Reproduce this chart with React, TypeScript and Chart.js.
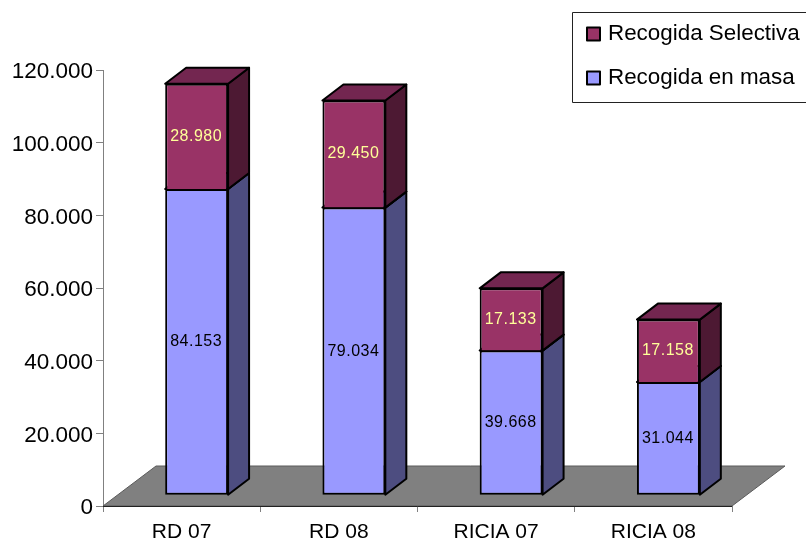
import React, { useEffect, useRef } from "react";
import { Chart, registerables } from "chart.js";

Chart.register(...registerables);

const categories = ["RD 07", "RD 08", "RICIA 07", "RICIA 08"];
const recogidaMasa = [84153, 79034, 39668, 31044];
const recogidaSelectiva = [28980, 29450, 17133, 17158];
const yTicks = [0, 20000, 40000, 60000, 80000, 100000, 120000];

const FONT = '"Liberation Sans", Arial, sans-serif';
const BLUE = "#9999ff";
const BLUE_SIDE = "#4d4d80";
const MAROON = "#993366";
const MAROON_TOP = "#732650";
const MAROON_SIDE = "#4d1933";
const LABEL_YELLOW = "#ffff99";

// Projection used for the pseudo-3D look
const BAR_SHIFT_X = 15;
const BAR_DEPTH_X = 21;
const BAR_DEPTH_Y = 16;
const FLOOR_DEPTH_X = 53;
const FLOOR_DEPTH_Y = 40;

const fmt = (v: number) => {
  const s = String(v);
  return s.length > 3 ? s.slice(0, -3) + "." + s.slice(-3) : s;
};

const polygon = (ctx: CanvasRenderingContext2D, pts: number[][], fill: string, stroke: string, lw: number) => {
  ctx.beginPath();
  pts.forEach((p, i) => (i ? ctx.lineTo(p[0], p[1]) : ctx.moveTo(p[0], p[1])));
  ctx.closePath();
  ctx.fillStyle = fill;
  ctx.fill();
  ctx.lineWidth = lw;
  ctx.strokeStyle = stroke;
  ctx.lineJoin = "round";
  ctx.stroke();
};

const scene3d = {
  id: "scene3d",
  beforeDraw(chart: any) {
    // Value-axis labels sit slightly below their tick marks
    const items = chart.scales.y.getLabelItems();
    items.forEach((item: any) => {
      if (!item.nudged) {
        item.options.translation[1] += 2;
        item.nudged = true;
      }
    });
  },
  beforeDatasetsDraw(chart: any) {
    const { ctx } = chart;
    const x = chart.scales.x;
    const y = chart.scales.y;
    const y0 = y.getPixelForValue(0);

    // Floor of the plot
    polygon(
      ctx,
      [
        [x.left, y0],
        [x.left + FLOOR_DEPTH_X, y0 - FLOOR_DEPTH_Y],
        [x.right + FLOOR_DEPTH_X, y0 - FLOOR_DEPTH_Y],
        [x.right, y0],
      ],
      "#808080",
      "#5a5a5a",
      1
    );
    ctx.beginPath();
    ctx.moveTo(x.left, y0 + 0.5);
    ctx.lineTo(x.right, y0 + 0.5);
    ctx.strokeStyle = "#222222";
    ctx.lineWidth = 1;
    ctx.stroke();

    // Bars sit forward of the category centres
    ctx.save();
    ctx.translate(BAR_SHIFT_X, 0);
    chart.data.datasets.forEach((ds: any, di: number) => {
      chart.getDatasetMeta(di).data.forEach((bar: any) => {
        const { x: cx, y: top, base, width } = bar.getProps(["x", "y", "base", "width"], true);
        const r = cx + width / 2;
        const l = cx - width / 2;
        polygon(
          ctx,
          [
            [r, top],
            [r + BAR_DEPTH_X, top - BAR_DEPTH_Y],
            [r + BAR_DEPTH_X, base - BAR_DEPTH_Y],
            [r, base],
          ],
          ds.sideColor,
          "#000000",
          2
        );
        polygon(
          ctx,
          [
            [l, top],
            [l + BAR_DEPTH_X, top - BAR_DEPTH_Y],
            [r + BAR_DEPTH_X, top - BAR_DEPTH_Y],
            [r, top],
          ],
          ds.topColor,
          "#000000",
          2
        );
      });
    });
  },
  afterDatasetsDraw(chart: any) {
    const { ctx } = chart;
    // Value labels, still in the shifted bar coordinates
    ctx.font = `16px ${FONT}`;
    (ctx as any).letterSpacing = "0.5px";
    ctx.textAlign = "center";
    ctx.textBaseline = "middle";
    chart.data.datasets.forEach((ds: any, di: number) => {
      chart.getDatasetMeta(di).data.forEach((bar: any, i: number) => {
        const { x: cx, y: top, base } = bar.getProps(["x", "y", "base"], true);
        ctx.fillStyle = ds.labelColor;
        ctx.fillText(fmt(ds.data[i]), cx - 0.5, (top + base) / 2);
      });
    });
    (ctx as any).letterSpacing = "0px";
    ctx.restore();

    // Legend box, running off the right edge of the canvas
    ctx.save();
    ctx.fillStyle = "#ffffff";
    ctx.fillRect(572.5, 12.5, 240, 90);
    ctx.strokeStyle = "#222222";
    ctx.lineWidth = 1;
    ctx.strokeRect(572.5, 12.5, 240, 90);
    const rows = [...chart.data.datasets].reverse();
    rows.forEach((ds: any, i: number) => {
      const cy = 34 + i * 44;
      ctx.fillStyle = ds.backgroundColor;
      ctx.fillRect(587, cy - 6.5, 13, 13);
      ctx.strokeStyle = "#000000";
      ctx.lineWidth = 2;
      ctx.strokeRect(587, cy - 6.5, 13, 13);
      ctx.fillStyle = "#000000";
      ctx.font = `22.4px ${FONT}`;
      ctx.textAlign = "left";
      ctx.textBaseline = "middle";
      ctx.fillText(ds.label, 608, cy);
    });
    ctx.restore();
  },
};

export default function App() {
  const ref = useRef<HTMLCanvasElement>(null);

  useEffect(() => {
    document.body.style.margin = "0";
    const chart = new Chart(ref.current as HTMLCanvasElement, {
      type: "bar",
      data: {
        labels: categories,
        datasets: [
          {
            label: "Recogida en masa",
            data: recogidaMasa,
            backgroundColor: BLUE,
            borderColor: "#000000",
            borderWidth: 2,
            borderSkipped: false,
            yAxisID: "yBars",
            clip: false,
            sideColor: BLUE_SIDE,
            topColor: BLUE,
            labelColor: "#000000",
          },
          {
            label: "Recogida Selectiva",
            data: recogidaSelectiva,
            backgroundColor: MAROON,
            borderColor: "#000000",
            borderWidth: 2,
            borderSkipped: "bottom",
            yAxisID: "yBars",
            clip: false,
            sideColor: MAROON_SIDE,
            topColor: MAROON_TOP,
            labelColor: LABEL_YELLOW,
          },
        ] as any,
      },
      plugins: [scene3d],
      options: {
        responsive: false,
        animation: false,
        layout: { padding: { top: 70, left: 0, right: 74, bottom: 0 } },
        datasets: { bar: { barPercentage: 0.4, categoryPercentage: 1 } },
        plugins: { legend: { display: false }, tooltip: { enabled: false } },
        scales: {
          x: {
            stacked: true,
            afterFit: (s: any) => {
              s.height = 34;
            },
            grid: { drawOnChartArea: false, offset: true, tickLength: 6, color: "#808080" },
            border: { color: "#808080" },
            ticks: {
              color: "#000000",
              font: { family: FONT, size: 21 },
              padding: 8,
              maxRotation: 0,
            },
          },
          y: {
            min: 0,
            max: 120000,
            afterFit: (s: any) => {
              s.width = 103;
            },
            afterBuildTicks: (s: any) => {
              s.ticks = yTicks.map((value) => ({ value }));
            },
            grid: { drawOnChartArea: false, tickLength: 7, color: "#808080" },
            border: { color: "#808080" },
            ticks: {
              color: "#000000",
              font: { family: FONT, size: 22.5 },
              padding: 3,
              callback: (v: any) => fmt(Number(v)),
            },
          },
          // Same pixel scale as y, with zero raised onto the floor
          yBars: {
            display: false,
            stacked: true,
            min: -3100,
            max: 116900,
          },
        },
      } as any,
    });
    return () => chart.destroy();
  }, []);

  return <canvas ref={ref} width={806} height={540} style={{ display: "block", width: 806, height: 540 }} />;
}
